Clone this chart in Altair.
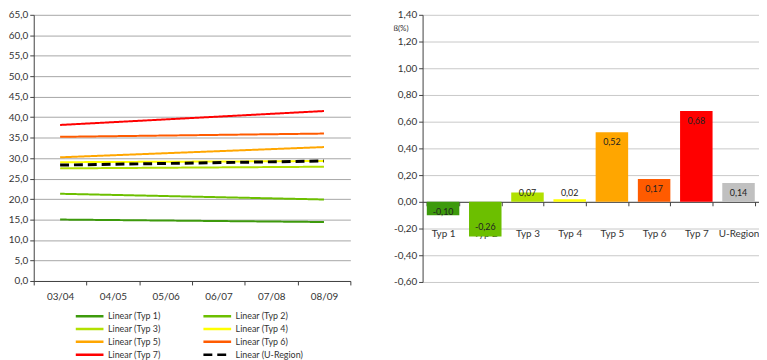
import altair as alt
import pandas as pd

# ---- data ----
periods = ["03/04", "04/05", "05/06", "06/07", "07/08", "08/09"]
series = ["Typ 1", "Typ 2", "Typ 3", "Typ 4", "Typ 5", "Typ 6", "Typ 7", "U-Region"]
trend_start = [15.0, 21.3, 27.5, 29.0, 30.2, 35.2, 38.1, 28.3]   # value at 03/04
trend_end = [14.4, 19.9, 27.9, 29.3, 32.7, 36.0, 41.5, 29.3]     # value at 08/09
line_colors = ["#3d9a0c", "#6cbf00", "#b2e000", "#ffff00", "#ffa600", "#ff5b00", "#ff0000", "#000000"]
line_dashes = [[1, 0]] * 7 + [[9, 5]]

bar_values = [-0.10, -0.26, 0.07, 0.02, 0.52, 0.17, 0.68, 0.14]
bar_colors = ["#3d9a0c", "#6cbf00", "#b2e000", "#ffff00", "#ffa600", "#ff5b00", "#ff0000", "#c0c0c0"]

left_ticks = [0, 5, 10, 15, 20, 25, 30, 35, 40, 45, 50, 55, 60, 65]
right_ticks = [-0.6, -0.4, -0.2, 0.0, 0.2, 0.4, 0.6, 0.8, 1.0, 1.2, 1.4]

FONT = "Lato"

rows = []
for s, a, b in zip(series, trend_start, trend_end):
    rows.append({"series": s, "period": periods[0], "value": a})
    rows.append({"series": s, "period": periods[-1], "value": b})
line_df = pd.DataFrame(rows)
bar_df = pd.DataFrame({"typ": series, "value": bar_values})

fmt1 = "replace(replace(format(datum.value,'.1f'),'.',','),'\u2212','-')"
fmt2 = "replace(replace(format(datum.value,'.2f'),'.',','),'\u2212','-')"

leg = alt.Legend(
    title=None, orient="none", legendX=51, legendY=299, columns=2, direction="horizontal",
    symbolType="M-3.5,0H3.5", symbolSize=64, symbolStrokeWidth=2.5,
    labelOffset=13, labelFontSize=9, labelFont=FONT, labelColor="#333",
    labelExpr="'Linear (' + datum.label + ')'", rowPadding=2, columnPadding=37,
)

x_left = alt.X(
    "period:N",
    scale=alt.Scale(domain=periods, paddingInner=0, paddingOuter=0),
    axis=alt.Axis(title=None, tickBand="extent", labelPadding=12, labelBaseline="middle",
                  tickSize=4, grid=False, domainColor="#404040", tickColor="#404040",
                  labelAngle=0),
)
y_left = alt.Y(
    "value:Q",
    scale=alt.Scale(domain=[0, 65], nice=False, zero=True),
    axis=alt.Axis(title=None, values=left_ticks, labelExpr=fmt1, gridColor="#a6a6a6",
                  tickSize=4, labelPadding=2, minExtent=25, maxExtent=25, labelOverlap=False,
                  domainColor="#404040", tickColor="#404040"),
)
color_enc = alt.Color("series:N", scale=alt.Scale(domain=series, range=line_colors), legend=leg)
dash_enc = alt.StrokeDash("series:N", scale=alt.Scale(domain=series, range=line_dashes), legend=leg)

base_lines = alt.Chart(line_df).encode(x=x_left, y=y_left, color=color_enc, strokeDash=dash_enc)
solid = base_lines.transform_filter("datum.series != 'U-Region'").mark_line(strokeWidth=2)
dashed = base_lines.transform_filter("datum.series == 'U-Region'").mark_line(strokeWidth=3)
left = alt.layer(solid, dashed).properties(width=320, height=269)

x_scale_r = alt.Scale(domain=series, paddingInner=0.23, paddingOuter=0.1)
x_axis_r = alt.Axis(title=None, offset=-81, tickBand="extent", labelPadding=28,
                    labelBaseline="middle", tickSize=4, grid=False, domainColor="#404040",
                    tickColor="#404040", labelAngle=0)
y_scale_r = alt.Scale(domain=[-0.6, 1.4], nice=False, zero=False)
y_axis_r = alt.Axis(title="ß(%)", titleAngle=0, titleX=-30, titleY=14, titleAlign="left",
                    titleBaseline="middle", titleFontSize=8, titleFontWeight="normal",
                    titleFont=FONT, titleColor="#333",
                    values=right_ticks, labelExpr=fmt2, gridColor="#c8c8c8", tickSize=4,
                    labelPadding=2, minExtent=28, maxExtent=28, labelOverlap=False,
                    domainColor="#404040", tickColor="#404040")

bars = alt.Chart(bar_df).mark_bar().encode(
    x=alt.X("typ:N", sort=series, scale=x_scale_r, axis=x_axis_r),
    y=alt.Y("value:Q", scale=y_scale_r, axis=y_axis_r),
    color=alt.Color("typ:N", scale=alt.Scale(domain=series, range=bar_colors), legend=None),
)
labels = alt.Chart(bar_df).transform_calculate(
    pos="datum.value > 0 ? max(datum.value - 0.074, 0.067) : min(datum.value + 0.074, -0.074)",
    lab=fmt2,
).mark_text(baseline="middle", fontSize=9, font=FONT, color="#222").encode(
    x=alt.X("typ:N", sort=series, scale=x_scale_r, axis=x_axis_r),
    y=alt.Y("pos:Q", scale=y_scale_r, axis=y_axis_r),
    text="lab:N",
)
right = alt.layer(bars, labels).properties(width=340, height=270)

chart = alt.hconcat(left, right, spacing=42).resolve_scale(
    color="independent", strokeDash="independent"
).resolve_legend(color="independent").properties(padding=0).configure_view(
    stroke=None
).configure_axis(
    labelFont=FONT, labelFontSize=10, labelColor="#333"
)

chart.save("out.html", embed_options={"renderer": "svg", "actions": False})
